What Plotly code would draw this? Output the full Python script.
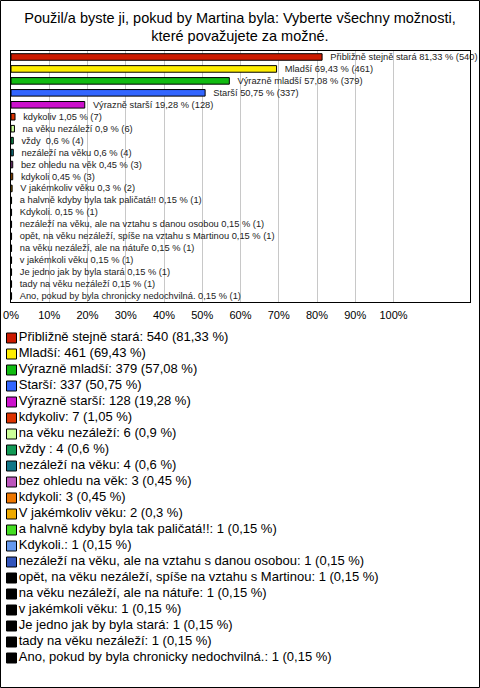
import plotly.graph_objects as go

categories = ["Přibližně stejně stará", "Mladší", "Výrazně mladší", "Starší", "Výrazně starší",
              "kdykoliv", "na věku nezáleží", "vždy ", "nezáleží na věku", "bez ohledu na věk",
              "kdykoli", "V jakémkoliv věku", "a halvně kdyby byla tak paličatá!!", "Kdykoli.",
              "nezáleží na věku, ale na vztahu s danou osobou",
              "opět, na věku nezáleží, spíše na vztahu s Martinou",
              "na věku nezáleží, ale na nátuře", "v jakémkoli věku", "Je jedno jak by byla stará",
              "tady na věku nezáleží", "Ano, pokud by byla chronicky nedochvilná."]
counts = [540, 461, 379, 337, 128, 7, 6, 4, 4, 3, 3, 2, 1, 1, 1, 1, 1, 1, 1, 1, 1]
percents = [81.33, 69.43, 57.08, 50.75, 19.28, 1.05, 0.9, 0.6, 0.6, 0.45, 0.45, 0.3,
            0.15, 0.15, 0.15, 0.15, 0.15, 0.15, 0.15, 0.15, 0.15]
colors = ["#cc1a00", "#ffee00", "#11bb11", "#3366ff", "#cc11cc", "#dd3300", "#ccff99",
          "#119955", "#117788", "#bb55bb", "#ee7700", "#eeaa00", "#44dd22", "#6699ee",
          "#3355bb", "#000000", "#000000", "#000000", "#000000", "#000000", "#000000"]
tick_vals = [0, 10, 20, 30, 40, 50, 60, 70, 80, 90, 100]
tick_text = [f"{v}%" for v in tick_vals]

FONT = "Arial, 'Liberation Sans', sans-serif"

W, H = 480, 688

def dom_x(a, b):
    return [a / W, b / W]

def dom_y(top, bottom):
    return [(H - bottom) / H, (H - top) / H]

pct_str = [str(p).replace(".", ",") for p in percents]
rows = list(range(len(categories)))
PAD = "\u00a0\u00a0"

fig = go.Figure()
# bars
fig.add_trace(go.Bar(
    x=percents, y=rows, orientation="h",
    marker=dict(color=colors, line=dict(color="#000000", width=1)),
    width=0.55,
    text=[f"{PAD}{c} {ps} % ({n})" for c, ps, n in zip(categories, pct_str, counts)],
    textposition="outside",
    constraintext="none",
    cliponaxis=False,
    textfont=dict(family=FONT, size=9.3, color="#222222"),
    hoverinfo="text",
    xaxis="x", yaxis="y",
))
# legend (drawn as a marker column on its own axis pair)
fig.add_trace(go.Scatter(
    x=[0] * len(categories), y=rows,
    mode="markers+text",
    marker=dict(symbol="square", size=10, color=colors, line=dict(color="#000000", width=1)),
    text=[f"{c}: {n} ({ps} %)" for c, n, ps in zip(categories, counts, pct_str)],
    textposition="middle right",
    textfont=dict(family=FONT, size=13, color="#000000"),
    cliponaxis=False,
    hoverinfo="skip",
    xaxis="x2", yaxis="y2",
))

fig.update_layout(
    template="none",
    width=W, height=H,
    autosize=False,
    margin=dict(l=0, r=0, t=0, b=0, pad=0, autoexpand=False),
    paper_bgcolor="white", plot_bgcolor="white",
    showlegend=False,
    title=dict(text="Použil/a byste ji, pokud by Martina byla: Vyberte všechny možnosti,<br>které považujete za možné.",
               x=0.5, xanchor="center", xref="paper", y=1 - 22.5 / H, yanchor="middle", yref="container",
               automargin=False,
               font=dict(family=FONT, size=14.5, color="#000000")),
    font=dict(family=FONT, color="#000000"),
    xaxis=dict(domain=dom_x(11, 470), range=[0, 120], tickvals=tick_vals, ticktext=tick_text,
               showgrid=True, gridcolor="#c8c8c8", gridwidth=1, automargin=False,
               showline=True, linecolor="#000000", mirror=True, linewidth=1,
               zeroline=False, ticks="", ticklen=0, anchor="y", ticklabelstandoff=3,
               tickfont=dict(family=FONT, size=11, color="#000000")),
    yaxis=dict(domain=dom_y(51, 302), range=[20.5, -0.5], showticklabels=False, showgrid=False,
               showline=True, linecolor="#000000", mirror=True, linewidth=1, automargin=False,
               zeroline=False, ticks="", anchor="x"),
    xaxis2=dict(domain=[0, 1], range=[-11.5, W - 11.5], visible=False, anchor="y2",
                fixedrange=True, automargin=False),
    yaxis2=dict(domain=dom_y(330, 666), range=[20.5, -0.5], visible=False, anchor="x2",
                fixedrange=True, automargin=False),
    shapes=[dict(type="rect", xref="paper", yref="paper",
                 x0=0.5 / W, x1=(W - 0.5) / W, y0=0.5 / H, y1=(H - 0.5) / H,
                 line=dict(color="#000000", width=1), fillcolor="rgba(0,0,0,0)", layer="above")],
)

fig.write_html("out.html", config={"displayModeBar": False, "responsive": False},
               post_script="document.body.style.margin='0';document.body.style.padding='0';")
